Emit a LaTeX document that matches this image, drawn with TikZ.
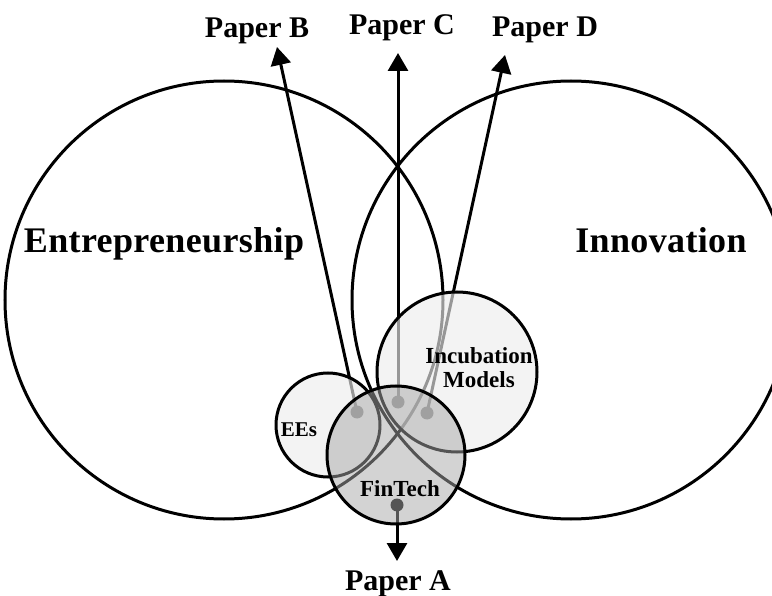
\documentclass[tikz,border=0pt]{standalone}
\usepackage{fontspec}
\setmainfont{Liberation Serif}
\usetikzlibrary{arrows.meta}
\definecolor{dotgray}{HTML}{A0A0A0}
\definecolor{dotdark}{HTML}{555555}
\tikzset{bigcircle/.style={shape=circle, draw, line width=3pt, inner sep=0pt, minimum size=438pt}}
\tikzset{smallcircle/.style={shape=circle, draw, line width=3pt, inner sep=0pt, fill=black!7, fill opacity=0.64}}
\tikzset{fincircle/.style={shape=circle, draw, line width=3pt, inner sep=0pt, fill=black!34, fill opacity=0.5}}
\tikzset{paperarrow/.style={-{Triangle[length=18pt,width=20pt]}, line width=3pt}}
\tikzset{dot/.style={shape=circle, inner sep=0pt, minimum size=13pt}}
\tikzset{bigtext/.style={font=\bfseries\fontsize{36}{36}\selectfont\addfontfeatures{LetterSpace=1}, anchor=base, inner sep=0pt}}
\tikzset{papertext/.style={font=\bfseries\fontsize{30}{30}\selectfont, anchor=base, inner sep=0pt}}
\tikzset{smalltext/.style={font=\bfseries\fontsize{23}{24}\selectfont, align=center, inner sep=0pt}}

\begin{document}
\begin{tikzpicture}[x=1pt,y=-1pt]
\useasboundingbox (0,0) rectangle (772,596);
\clip (0,0) rectangle (772,596);
\node[style=bigcircle] (entre) at (224,300) {};
\node[style=bigcircle] (innov) at (571,300) {};
\node[style=bigtext] (entretext) at (164,253) {Entrepreneurship};
\node[style=bigtext] (innovtext) at (661,253) {Innovation};

\coordinate (da) at (397,505);
\coordinate (db) at (357,412);
\coordinate (dc) at (398,402);
\coordinate (dd) at (427,413);
\coordinate (ta) at (397,561);
\coordinate (tb) at (277,47);
\coordinate (tc) at (398,53);
\coordinate (td) at (505,55);
\draw[style=paperarrow] (da) -- (ta);
\draw[style=paperarrow] (db) -- (tb);
\draw[style=paperarrow] (dc) -- (tc);
\draw[style=paperarrow] (dd) -- (td);

\node[style=smallcircle, minimum size=104pt] (ees) at (328,425) {};
\node[style=smallcircle, minimum size=160pt] (incub) at (457,372) {};
\node[style=fincircle, minimum size=138pt] (fintech) at (396,455) {};

\node[style=dot, fill=dotdark] (dota) at (da) {};
\node[style=dot, fill=dotgray] (dotb) at (db) {};
\node[style=dot, fill=dotgray] (dotc) at (dc) {};
\node[style=dot, fill=dotgray] (dotd) at (dd) {};

\node[style=smalltext, font=\bfseries\fontsize{21}{21}\selectfont, anchor=base] (eestext) at (299,436) {EEs};
\node[style=smalltext] (incubtext) at (479,368) {Incubation\\Models};
\node[style=smalltext, anchor=base] (fintext) at (400,496) {FinTech};

\node[style=papertext] (papera) at (398,590) {Paper A};
\node[style=papertext] (paperb) at (257,38) {Paper B};
\node[style=papertext] (paperc) at (402,35) {Paper C};
\node[style=papertext] (paperd) at (545,37) {Paper D};
\end{tikzpicture}
\end{document}
